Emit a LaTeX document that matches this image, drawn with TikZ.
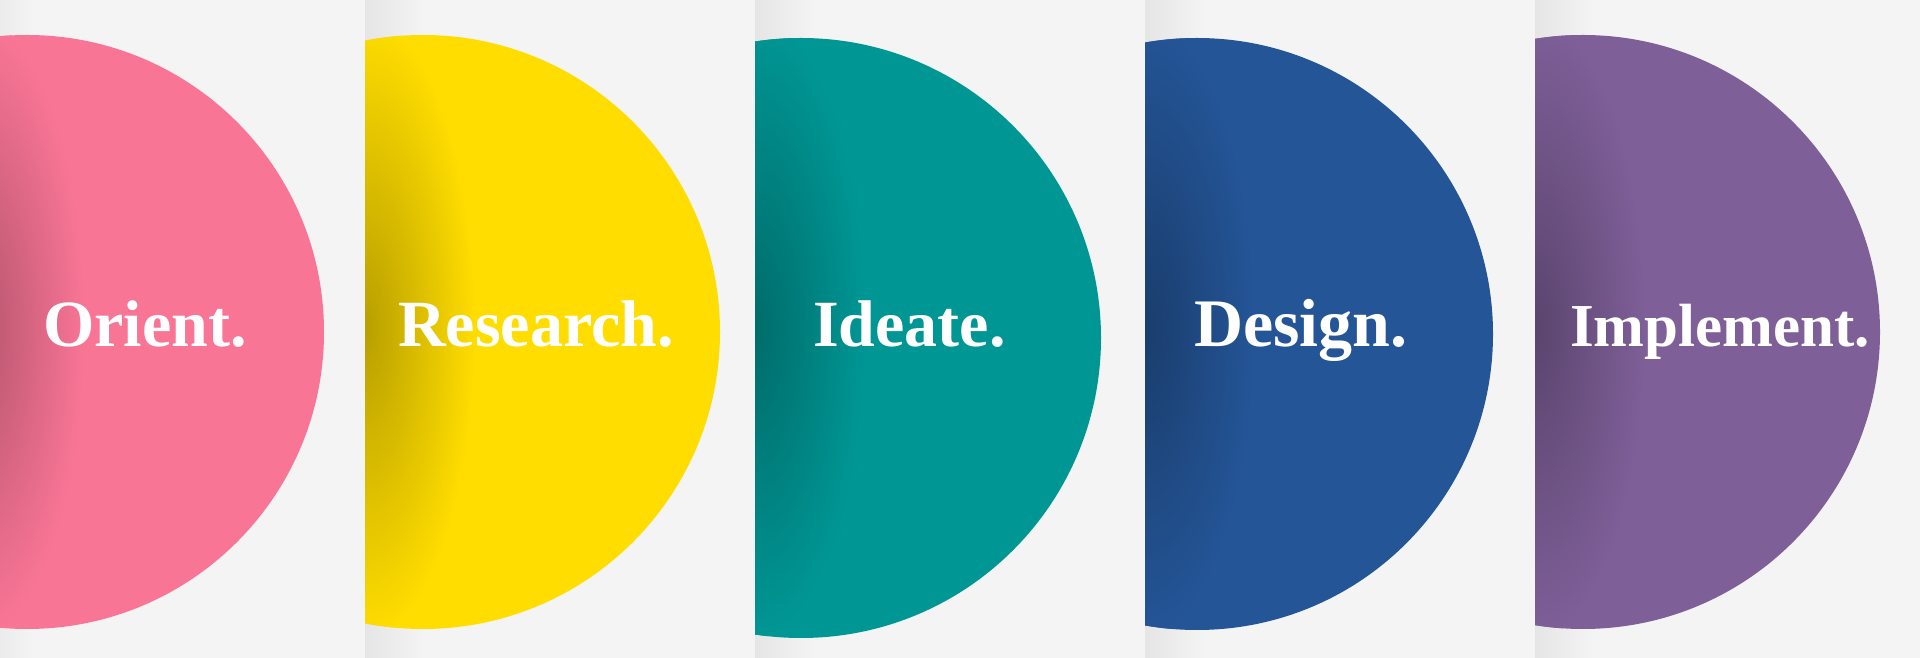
\documentclass[tikz,border=0pt]{standalone}
\usepackage{fontspec}
\setmainfont{Liberation Serif}
\definecolor{paper}{HTML}{F4F4F4}
\definecolor{orientpink}{HTML}{F97596}
\definecolor{researchyellow}{HTML}{FFDD00}
\definecolor{ideateteal}{HTML}{009694}
\definecolor{designblue}{HTML}{245597}
\definecolor{implementpurple}{HTML}{7E5F98}

\begin{document}
\begin{tikzpicture}[x=1pt,y=1pt,
  edge/.style={left color=black!6!paper,right color=paper},
  curl/.style={inner color=#1!72!black,outer color=#1},
  phase/.style={anchor=base west,inner sep=0pt,text=white,font=\bfseries\fontsize{66}{66}\selectfont}]
\fill[paper] (0,0) rectangle (1920,658);
\useasboundingbox (0,0) rectangle (1920,658);
% orient
\begin{scope}
  \clip (-25,0) rectangle (365,658);
  \shade[edge] (-25,0) rectangle (35,658);
  \fill[orientpink] (27,326) circle (297);
  \clip (27,326) circle (297);
  \shade[curl=orientpink] (-25,330) ellipse (110 and 310);
\end{scope}
% research
\begin{scope}
  \clip (365,0) rectangle (755,658);
  \shade[edge] (365,0) rectangle (425,658);
  \fill[researchyellow] (423,326) circle (297);
  \clip (423,326) circle (297);
  \shade[curl=researchyellow] (365,330) ellipse (110 and 310);
\end{scope}
% ideate
\begin{scope}
  \clip (755,0) rectangle (1145,658);
  \shade[edge] (755,0) rectangle (815,658);
  \fill[ideateteal] (801,320) circle (300);
  \clip (801,320) circle (300);
  \shade[curl=ideateteal] (755,330) ellipse (110 and 310);
\end{scope}
% design
\begin{scope}
  \clip (1145,0) rectangle (1535,658);
  \shade[edge] (1145,0) rectangle (1205,658);
  \fill[designblue] (1197,324) circle (296);
  \clip (1197,324) circle (296);
  \shade[curl=designblue] (1145,330) ellipse (110 and 310);
\end{scope}
% implement
\begin{scope}
  \clip (1535,0) rectangle (1920,658);
  \shade[edge] (1535,0) rectangle (1595,658);
  \fill[implementpurple] (1583,326) circle (297);
  \clip (1583,326) circle (297);
  \shade[curl=implementpurple] (1535,330) ellipse (110 and 310);
\end{scope}
\node[phase] (orient) at (43,311) {Orient.};
\node[phase] (research) at (398,311) {Research.};
\node[phase] (ideate) at (813,311) {Ideate.};
\node[phase,font=\bfseries\fontsize{68}{68}\selectfont] (design) at (1194,311) {Design.};
\node[phase,font=\bfseries\fontsize{61}{61}\selectfont] (implement) at (1570,311) {Implement.};
\end{tikzpicture}
\end{document}
